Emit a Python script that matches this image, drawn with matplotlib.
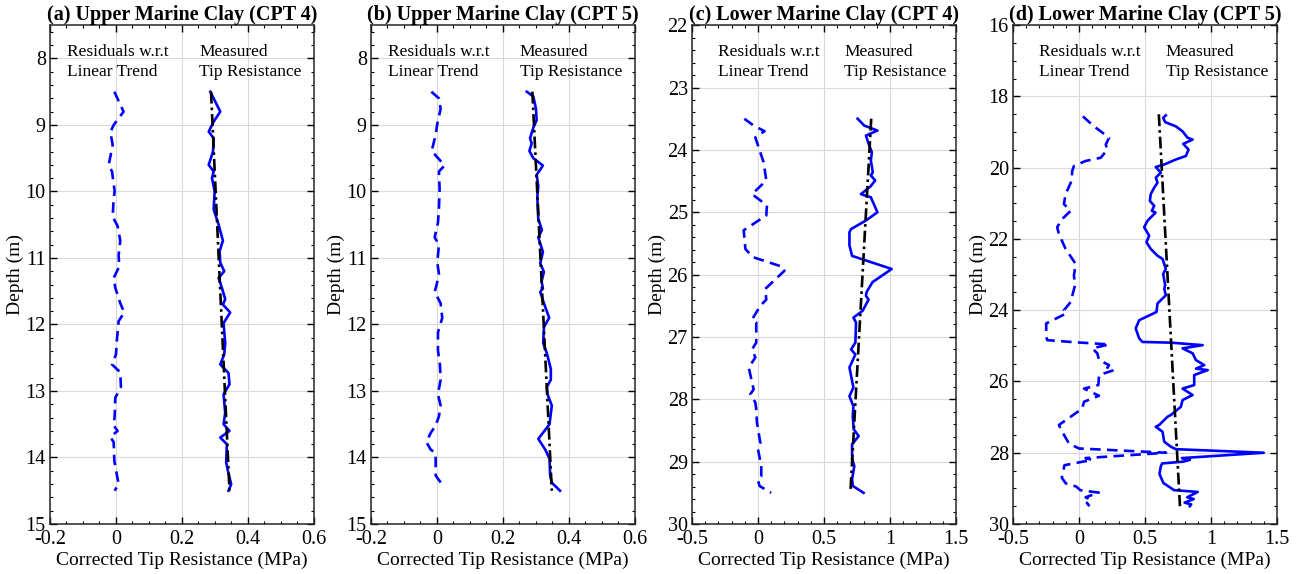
import matplotlib
matplotlib.use("Agg")
import matplotlib.pyplot as plt
from matplotlib.ticker import AutoMinorLocator, MultipleLocator

plt.rcParams['font.family'] = ['Liberation Serif', 'DejaVu Serif']

# ---- (a) Upper Marine Clay (CPT 4) ----
dep_a_meas = [8.5, 8.8, 8.95, 9.1, 9.2, 9.4, 9.6, 9.7, 9.8, 10.0,
              10.27, 10.5, 10.74, 10.9, 11.07, 11.2, 11.3, 11.45, 11.62, 11.7,
              11.82, 11.98, 12.28, 12.45, 12.6, 12.73, 12.9, 13.05, 13.33, 13.5,
              13.6, 13.7, 13.8, 14.07, 14.2, 14.4, 14.5]
qc_a = [0.286, 0.316, 0.296, 0.281, 0.296, 0.294, 0.281, 0.296, 0.291, 0.299,
        0.296, 0.311, 0.324, 0.314, 0.316, 0.328, 0.311, 0.321, 0.331, 0.324,
        0.346, 0.326, 0.331, 0.328, 0.316, 0.341, 0.344, 0.326, 0.331, 0.326,
        0.344, 0.316, 0.336, 0.334, 0.339, 0.349, 0.341]
dep_a_res = [8.5, 8.8, 9.0, 9.11, 9.3, 9.6, 9.7, 10.0, 10.1, 10.38,
             10.52, 10.74, 10.96, 11.13, 11.3, 11.45, 11.68, 11.82, 11.95, 12.22,
             12.45, 12.6, 12.72, 12.94, 13.1, 13.38, 13.52, 13.6, 13.69, 13.77,
             14.05, 14.27, 14.4, 14.5]
res_a = [-0.005, 0.023, -0.007, -0.017, -0.01, -0.022, -0.012, -0.004, -0.007, -0.01,
         0.005, 0.013, 0.008, 0.01, -0.007, -0.002, 0.013, 0.025, 0.008, 0.003,
         0.0, -0.012, 0.013, 0.015, -0.002, -0.004, -0.007, 0.005, -0.017, -0.007,
         -0.005, 0.003, 0.008, -0.004]
dep_a_trend = [8.5, 14.5]
trend_a = [0.288, 0.344]

# ---- (b) Upper Marine Clay (CPT 5) ----
dep_b_meas = [8.5, 8.57, 8.76, 8.93, 9.04, 9.2, 9.28, 9.39, 9.5, 9.61,
              9.75, 9.92, 10.08, 10.41, 10.58, 10.69, 10.91, 11.08, 11.21, 11.35,
              11.46, 11.51, 11.68, 11.9, 12.04, 12.28, 12.45, 12.67, 12.83, 12.94,
              13.05, 13.22, 13.5, 13.63, 13.72, 13.88, 14.02, 14.27, 14.38, 14.5]
qc_b = [0.272, 0.292, 0.300, 0.302, 0.292, 0.282, 0.287, 0.280, 0.292, 0.321,
        0.302, 0.307, 0.304, 0.307, 0.318, 0.307, 0.321, 0.313, 0.324, 0.317,
        0.321, 0.313, 0.324, 0.340, 0.324, 0.322, 0.334, 0.345, 0.345, 0.333,
        0.335, 0.348, 0.341, 0.321, 0.307, 0.328, 0.341, 0.343, 0.348, 0.373]
dep_b_res = [8.5, 8.6, 8.76, 8.98, 9.15, 9.39, 9.61, 9.7, 9.97, 10.25,
             10.47, 10.69, 10.8, 11.07, 11.24, 11.4, 11.51, 11.68, 11.9, 12.12,
             12.39, 12.61, 12.83, 13.05, 13.22, 13.38, 13.52, 13.63, 13.77, 13.88,
             13.94, 14.27, 14.43]
res_b = [-0.017, 0.006, 0.011, 0.001, -0.004, -0.016, 0.023, 0.006, 0.008, 0.006,
         0.003, -0.007, 0.006, 0.001, 0.006, -0.001, -0.007, 0.011, 0.016, 0.003,
         0.003, 0.009, 0.011, 0.003, 0.011, 0.006, -0.004, -0.019, -0.032, -0.019,
         -0.004, -0.004, 0.019]
dep_b_trend = [8.5, 14.5]
trend_b = [0.289, 0.348]

# ---- (c) Lower Marine Clay (CPT 4) ----
dep_c_meas = [23.5, 23.61, 23.69, 23.77, 23.9, 24.04, 24.17, 24.36, 24.41, 24.49,
              24.58, 24.71, 24.76, 25.0, 25.13, 25.27, 25.32, 25.53, 25.7, 25.91,
              26.12, 26.28, 26.34, 26.4, 26.58, 26.69, 26.77, 27.09, 27.2, 27.28,
              27.49, 27.81, 27.95, 28.11, 28.27, 28.48, 28.59, 28.72, 28.96, 29.07,
              29.28, 29.39, 29.5]
qc_c = [0.755, 0.805, 0.905, 0.818, 0.838, 0.863, 0.855, 0.87, 0.855, 0.888,
        0.855, 0.78, 0.855, 0.905, 0.82, 0.705, 0.693, 0.693, 0.713, 1.013,
        0.868, 0.823, 0.818, 0.838, 0.793, 0.723, 0.743, 0.738, 0.705, 0.738,
        0.693, 0.723, 0.693, 0.723, 0.718, 0.725, 0.763, 0.713, 0.713, 0.73,
        0.713, 0.718, 0.80]
dep_c_res = [23.5, 23.61, 23.7, 23.8, 23.96, 24.2, 24.49, 24.71, 24.89, 25.05,
             25.29, 25.59, 25.72, 25.88, 25.94, 26.23, 26.4, 26.5, 26.72, 26.77,
             27.09, 27.2, 27.33, 27.49, 27.84, 27.92, 28.05, 28.16, 28.37, 28.7,
             28.8, 29.07, 29.23, 29.28, 29.39, 29.5]
res_c = [-0.103, -0.033, 0.05, -0.02, 0.005, 0.043, 0.063, -0.045, 0.068, 0.063,
         -0.108, -0.095, -0.038, 0.193, 0.2, 0.055, 0.063, 0.018, -0.045, -0.013,
         -0.013, -0.045, -0.02, -0.07, -0.033, -0.058, -0.02, -0.013, -0.008, 0.018,
         0.0, 0.025, 0.025, -0.002, 0.012, 0.1]
dep_c_trend = [23.5, 29.5]
trend_c = [0.858, 0.70]

# ---- (d) Lower Marine Clay (CPT 5) ----
dep_d_meas = [18.53, 18.6, 18.72, 18.84, 18.98, 19.16, 19.21, 19.33, 19.49, 19.67,
              19.77, 19.91, 19.98, 20.14, 20.28, 20.42, 20.56, 20.74, 20.93, 21.07,
              21.21, 21.26, 21.49, 21.67, 21.91, 22.09, 22.28, 22.47, 22.56, 22.84,
              22.98, 23.3, 23.39, 23.58, 23.81, 24.05, 24.28, 24.51, 24.79, 24.89,
              24.91, 24.98, 25.07, 25.21, 25.4, 25.54, 25.64, 25.68, 25.82, 26.1,
              26.2, 26.38, 26.52, 26.71, 26.94, 26.99, 27.22, 27.27, 27.41, 27.69,
              27.83, 27.9, 28.0, 28.15, 28.2, 28.25, 28.3, 28.38, 28.6, 28.85,
              29.05, 29.1, 29.25, 29.3, 29.4, 29.45, 29.5]
qc_d = [0.658, 0.638, 0.653, 0.734, 0.785, 0.823, 0.861, 0.79, 0.83, 0.81,
        0.734, 0.646, 0.582, 0.62, 0.582, 0.595, 0.57, 0.544, 0.537, 0.57,
        0.552, 0.58, 0.519, 0.494, 0.532, 0.511, 0.544, 0.595, 0.633, 0.658,
        0.638, 0.653, 0.646, 0.658, 0.595, 0.587, 0.456, 0.43, 0.456, 0.481,
        0.696, 0.937, 0.785, 0.861, 0.886, 0.949, 0.886, 0.975, 0.873, 0.873,
        0.785, 0.861, 0.785, 0.772, 0.696, 0.671, 0.608, 0.582, 0.633, 0.646,
        0.696, 0.734, 1.40, 0.78, 0.84, 0.79, 0.63, 0.62, 0.61, 0.64,
        0.72, 0.90, 0.82, 0.87, 0.80, 0.85, 0.84]
dep_d_res = [18.56, 18.84, 18.98, 19.16, 19.35, 19.49, 19.72, 19.81, 19.95, 20.09,
             20.37, 20.74, 21.02, 21.21, 21.44, 21.67, 21.86, 22.28, 22.7, 23.02,
             23.3, 23.77, 24.0, 24.09, 24.37, 24.75, 24.84, 24.89, 24.96, 25.07,
             25.21, 25.4, 25.54, 25.61, 25.68, 25.82, 26.1, 26.2, 26.4, 26.57,
             26.76, 26.99, 27.22, 27.41, 27.74, 27.88, 28.0, 28.15, 28.2, 28.35,
             28.7, 28.86, 28.95, 29.05, 29.12, 29.25, 29.32, 29.41, 29.5]
res_d = [0.03, 0.114, 0.165, 0.228, 0.203, 0.215, 0.165, 0.051, -0.038, -0.051,
         -0.056, -0.101, -0.114, -0.063, -0.127, -0.165, -0.152, -0.101, -0.025, -0.038,
         -0.03, -0.063, -0.114, -0.096, -0.248, -0.248, -0.24, -0.063, 0.228, 0.101,
         0.139, 0.152, 0.228, 0.215, 0.266, 0.152, 0.147, 0.038, 0.152, 0.038,
         0.025, -0.063, -0.152, -0.127, -0.076, 0.0, 0.66, 0.05, 0.10, -0.11,
         -0.13, -0.10, -0.02, 0.01, 0.15, 0.05, 0.09, 0.06, 0.08]
dep_d_trend = [18.5, 29.5]
trend_d = [0.605, 0.765]

titles = ["(a) Upper Marine Clay (CPT 4)", "(b) Upper Marine Clay (CPT 5)",
          "(c) Lower Marine Clay (CPT 4)", "(d) Lower Marine Clay (CPT 5)"]

panels = [
    (dep_a_meas, qc_a, dep_a_res, res_a, dep_a_trend, trend_a),
    (dep_b_meas, qc_b, dep_b_res, res_b, dep_b_trend, trend_b),
    (dep_c_meas, qc_c, dep_c_res, res_c, dep_c_trend, trend_c),
    (dep_d_meas, qc_d, dep_d_res, res_d, dep_d_trend, trend_d),
]

# axis settings per panel: xlim, xstep, ylim, ystep
limits = [
    ((-0.2, 0.6), 0.2, (7.5, 15), 1),
    ((-0.2, 0.6), 0.2, (7.5, 15), 1),
    ((-0.5, 1.5), 0.5, (22, 30), 1),
    ((-0.5, 1.5), 0.5, (16, 30), 2),
]

fig = plt.figure(figsize=(12.98, 5.74), dpi=100)
lefts = [0.0385, 0.2858, 0.5331, 0.7804]
text_x = [(0.064, 0.565), (0.064, 0.563), (0.10, 0.576), (0.10, 0.578)]

for i in range(4):
    ax = fig.add_axes([lefts[i], 0.0871, 0.2034, 0.869])
    dm, qc, dr, rs, dt, tr = panels[i]
    (xl, xs, yl, ys) = limits[i]

    ax.plot(rs, dr, color='#0000ff', lw=1.9, linestyle=(0, (4.0, 2.4)))
    ax.plot(qc, dm, color='#0000ff', lw=1.9)
    ax.plot(tr, dt, color='black', lw=1.9, linestyle=(0, (4.5, 1.5, 1, 1.5)))

    ax.set_xlim(*xl)
    ax.set_ylim(yl[1], yl[0])
    ax.xaxis.set_major_locator(MultipleLocator(xs))
    ax.yaxis.set_major_locator(MultipleLocator(ys))
    ax.xaxis.set_minor_locator(AutoMinorLocator())
    ax.yaxis.set_minor_locator(AutoMinorLocator())
    ax.xaxis.set_major_formatter(plt.FuncFormatter(lambda v, p: ('%g' % round(v, 3))))
    ax.tick_params(which='both', direction='in', top=True, right=True, labelsize=14.5)
    ax.tick_params(which='major', length=5, width=1, pad=3)
    ax.tick_params(axis='x', which='major', pad=4.5)
    ax.tick_params(which='minor', length=2.5, width=0.8)
    ax.grid(True, which='major', color='#d9d9d9', lw=0.8)
    ax.set_axisbelow(True)
    for s in ax.spines.values():
        s.set_linewidth(1.1)
        s.set_color('#262626')

    ax.set_title(titles[i], fontsize=14.5, fontweight='bold', pad=2)
    ax.set_xlabel("Corrected Tip Resistance (MPa)", fontsize=14, labelpad=2)
    ax.set_ylabel("Depth (m)", fontsize=14, labelpad=1)

    ax.text(text_x[i][0], 0.962, "Residuals w.r.t\nLinear Trend", transform=ax.transAxes,
            fontsize=12.5, va='top', ha='left', linespacing=1.3)
    ax.text(text_x[i][1], 0.962, "Measured\nTip Resistance", transform=ax.transAxes,
            fontsize=12.5, va='top', ha='left', linespacing=1.3)

fig.savefig("out.png", dpi=100)
